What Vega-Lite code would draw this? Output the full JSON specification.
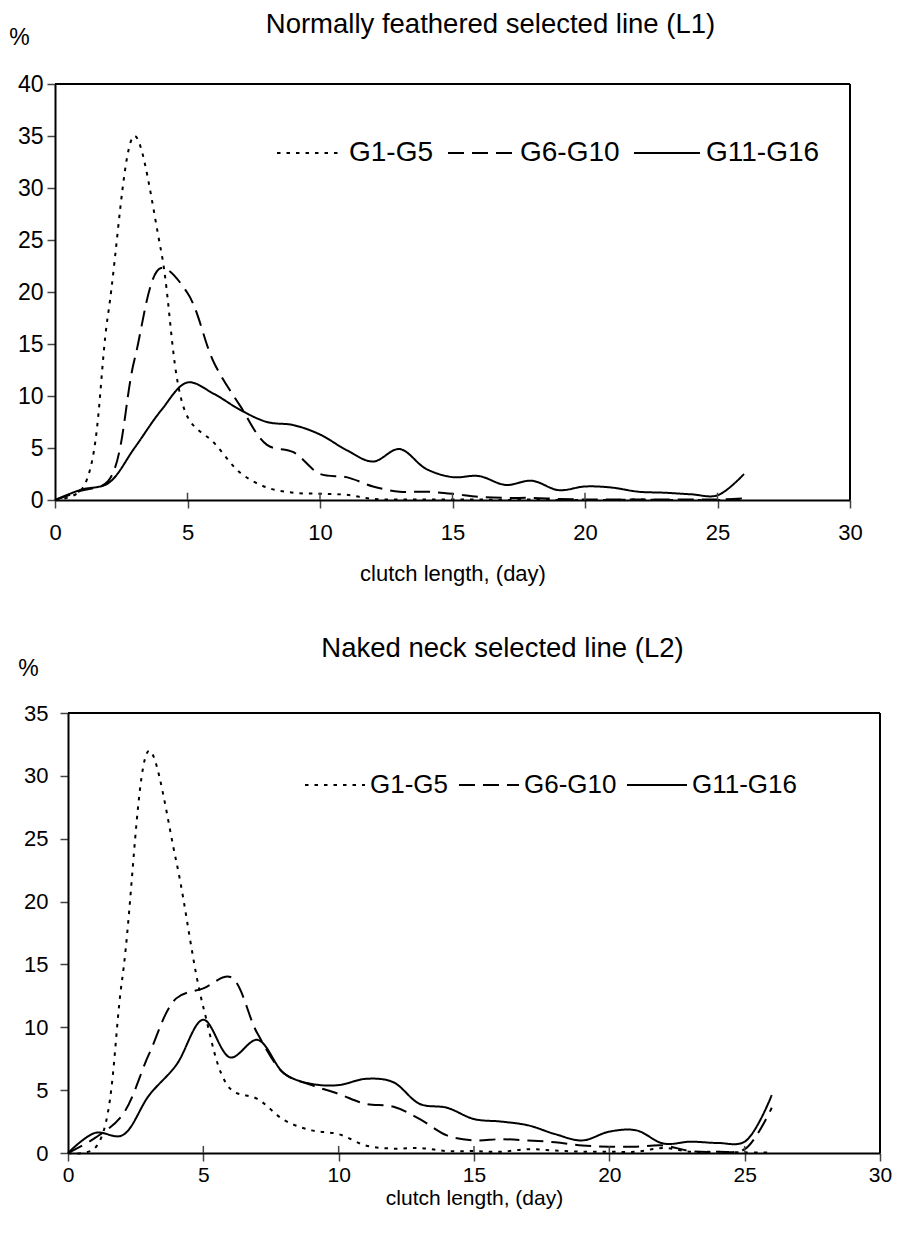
{
  "$schema": "https://vega.github.io/schema/vega-lite/v6.json",
  "padding": {"left": 8, "top": 10, "right": 5, "bottom": 5},
  "background": "white",
  "spacing": 50,
  "config": {"font": "Liberation Sans", "view": {"stroke": null}},
  "datasets": {
    "top": [
      {"day":0,"pct":0,"series":"G1-G5"},{"day":1,"pct":1.0,"series":"G1-G5"},{"day":2,"pct":17.8,"series":"G1-G5"},{"day":3,"pct":35,"series":"G1-G5"},{"day":4,"pct":24,"series":"G1-G5"},{"day":5,"pct":8,"series":"G1-G5"},{"day":6,"pct":5.5,"series":"G1-G5"},{"day":7,"pct":2.6,"series":"G1-G5"},{"day":8,"pct":1.2,"series":"G1-G5"},{"day":9,"pct":0.7,"series":"G1-G5"},{"day":10,"pct":0.6,"series":"G1-G5"},{"day":11,"pct":0.5,"series":"G1-G5"},{"day":12,"pct":0.1,"series":"G1-G5"},{"day":13,"pct":0.05,"series":"G1-G5"},{"day":14,"pct":0.05,"series":"G1-G5"},{"day":15,"pct":0.05,"series":"G1-G5"},{"day":16,"pct":0.05,"series":"G1-G5"},{"day":17,"pct":0,"series":"G1-G5"},{"day":18,"pct":0.05,"series":"G1-G5"},{"day":19,"pct":0,"series":"G1-G5"},{"day":20,"pct":0,"series":"G1-G5"},{"day":21,"pct":0,"series":"G1-G5"},{"day":22,"pct":0.05,"series":"G1-G5"},{"day":23,"pct":0,"series":"G1-G5"},{"day":24,"pct":0,"series":"G1-G5"},{"day":25,"pct":0,"series":"G1-G5"},{"day":26,"pct":0.05,"series":"G1-G5"},
      {"day":0,"pct":0,"series":"G6-G10"},{"day":1,"pct":0.9,"series":"G6-G10"},{"day":2,"pct":1.8,"series":"G6-G10"},{"day":3,"pct":13.5,"series":"G6-G10"},{"day":4,"pct":22.3,"series":"G6-G10"},{"day":5,"pct":19.9,"series":"G6-G10"},{"day":6,"pct":13.2,"series":"G6-G10"},{"day":7,"pct":9.0,"series":"G6-G10"},{"day":8,"pct":5.3,"series":"G6-G10"},{"day":9,"pct":4.6,"series":"G6-G10"},{"day":10,"pct":2.5,"series":"G6-G10"},{"day":11,"pct":2.2,"series":"G6-G10"},{"day":12,"pct":1.3,"series":"G6-G10"},{"day":13,"pct":0.8,"series":"G6-G10"},{"day":14,"pct":0.8,"series":"G6-G10"},{"day":15,"pct":0.6,"series":"G6-G10"},{"day":16,"pct":0.3,"series":"G6-G10"},{"day":17,"pct":0.2,"series":"G6-G10"},{"day":18,"pct":0.2,"series":"G6-G10"},{"day":19,"pct":0.1,"series":"G6-G10"},{"day":20,"pct":0.05,"series":"G6-G10"},{"day":21,"pct":0.05,"series":"G6-G10"},{"day":22,"pct":0.05,"series":"G6-G10"},{"day":23,"pct":0.05,"series":"G6-G10"},{"day":24,"pct":0.05,"series":"G6-G10"},{"day":25,"pct":0.05,"series":"G6-G10"},{"day":26,"pct":0.15,"series":"G6-G10"},
      {"day":0,"pct":0,"series":"G11-G16"},{"day":1,"pct":1.0,"series":"G11-G16"},{"day":2,"pct":1.6,"series":"G11-G16"},{"day":3,"pct":5.0,"series":"G11-G16"},{"day":4,"pct":8.6,"series":"G11-G16"},{"day":5,"pct":11.3,"series":"G11-G16"},{"day":6,"pct":10.2,"series":"G11-G16"},{"day":7,"pct":8.65,"series":"G11-G16"},{"day":8,"pct":7.5,"series":"G11-G16"},{"day":9,"pct":7.2,"series":"G11-G16"},{"day":10,"pct":6.3,"series":"G11-G16"},{"day":11,"pct":4.8,"series":"G11-G16"},{"day":12,"pct":3.7,"series":"G11-G16"},{"day":13,"pct":4.9,"series":"G11-G16"},{"day":14,"pct":3.0,"series":"G11-G16"},{"day":15,"pct":2.2,"series":"G11-G16"},{"day":16,"pct":2.3,"series":"G11-G16"},{"day":17,"pct":1.45,"series":"G11-G16"},{"day":18,"pct":1.85,"series":"G11-G16"},{"day":19,"pct":0.95,"series":"G11-G16"},{"day":20,"pct":1.3,"series":"G11-G16"},{"day":21,"pct":1.2,"series":"G11-G16"},{"day":22,"pct":0.8,"series":"G11-G16"},{"day":23,"pct":0.7,"series":"G11-G16"},{"day":24,"pct":0.55,"series":"G11-G16"},{"day":25,"pct":0.45,"series":"G11-G16"},{"day":26,"pct":2.5,"series":"G11-G16"}
    ],
    "bottom": [
      {"day":0,"pct":0,"series":"G1-G5"},{"day":1,"pct":0.4,"series":"G1-G5"},{"day":2,"pct":13.8,"series":"G1-G5"},{"day":3,"pct":32,"series":"G1-G5"},{"day":4,"pct":23.2,"series":"G1-G5"},{"day":5,"pct":11.6,"series":"G1-G5"},{"day":6,"pct":5.1,"series":"G1-G5"},{"day":7,"pct":4.3,"series":"G1-G5"},{"day":8,"pct":2.6,"series":"G1-G5"},{"day":9,"pct":1.8,"series":"G1-G5"},{"day":10,"pct":1.5,"series":"G1-G5"},{"day":11,"pct":0.6,"series":"G1-G5"},{"day":12,"pct":0.35,"series":"G1-G5"},{"day":13,"pct":0.4,"series":"G1-G5"},{"day":14,"pct":0.15,"series":"G1-G5"},{"day":15,"pct":0.15,"series":"G1-G5"},{"day":16,"pct":0.1,"series":"G1-G5"},{"day":17,"pct":0.3,"series":"G1-G5"},{"day":18,"pct":0.2,"series":"G1-G5"},{"day":19,"pct":0.1,"series":"G1-G5"},{"day":20,"pct":0.1,"series":"G1-G5"},{"day":21,"pct":0.1,"series":"G1-G5"},{"day":22,"pct":0.4,"series":"G1-G5"},{"day":23,"pct":0.1,"series":"G1-G5"},{"day":24,"pct":0.1,"series":"G1-G5"},{"day":25,"pct":0.05,"series":"G1-G5"},{"day":26,"pct":0.05,"series":"G1-G5"},
      {"day":0,"pct":0,"series":"G6-G10"},{"day":1,"pct":1.2,"series":"G6-G10"},{"day":2,"pct":3.0,"series":"G6-G10"},{"day":3,"pct":7.9,"series":"G6-G10"},{"day":4,"pct":12.3,"series":"G6-G10"},{"day":5,"pct":13.1,"series":"G6-G10"},{"day":6,"pct":14.0,"series":"G6-G10"},{"day":7,"pct":9.5,"series":"G6-G10"},{"day":8,"pct":6.3,"series":"G6-G10"},{"day":9,"pct":5.4,"series":"G6-G10"},{"day":10,"pct":4.7,"series":"G6-G10"},{"day":11,"pct":3.9,"series":"G6-G10"},{"day":12,"pct":3.7,"series":"G6-G10"},{"day":13,"pct":2.7,"series":"G6-G10"},{"day":14,"pct":1.4,"series":"G6-G10"},{"day":15,"pct":1.0,"series":"G6-G10"},{"day":16,"pct":1.1,"series":"G6-G10"},{"day":17,"pct":1.0,"series":"G6-G10"},{"day":18,"pct":0.85,"series":"G6-G10"},{"day":19,"pct":0.6,"series":"G6-G10"},{"day":20,"pct":0.5,"series":"G6-G10"},{"day":21,"pct":0.5,"series":"G6-G10"},{"day":22,"pct":0.6,"series":"G6-G10"},{"day":23,"pct":0.15,"series":"G6-G10"},{"day":24,"pct":0.1,"series":"G6-G10"},{"day":25,"pct":0.3,"series":"G6-G10"},{"day":26,"pct":3.6,"series":"G6-G10"},
      {"day":0,"pct":0,"series":"G11-G16"},{"day":1,"pct":1.6,"series":"G11-G16"},{"day":2,"pct":1.4,"series":"G11-G16"},{"day":3,"pct":4.6,"series":"G11-G16"},{"day":4,"pct":7.0,"series":"G11-G16"},{"day":5,"pct":10.6,"series":"G11-G16"},{"day":6,"pct":7.6,"series":"G11-G16"},{"day":7,"pct":9.0,"series":"G11-G16"},{"day":8,"pct":6.3,"series":"G11-G16"},{"day":9,"pct":5.5,"series":"G11-G16"},{"day":10,"pct":5.4,"series":"G11-G16"},{"day":11,"pct":5.9,"series":"G11-G16"},{"day":12,"pct":5.65,"series":"G11-G16"},{"day":13,"pct":3.9,"series":"G11-G16"},{"day":14,"pct":3.6,"series":"G11-G16"},{"day":15,"pct":2.7,"series":"G11-G16"},{"day":16,"pct":2.5,"series":"G11-G16"},{"day":17,"pct":2.2,"series":"G11-G16"},{"day":18,"pct":1.5,"series":"G11-G16"},{"day":19,"pct":1.0,"series":"G11-G16"},{"day":20,"pct":1.7,"series":"G11-G16"},{"day":21,"pct":1.8,"series":"G11-G16"},{"day":22,"pct":0.75,"series":"G11-G16"},{"day":23,"pct":0.9,"series":"G11-G16"},{"day":24,"pct":0.8,"series":"G11-G16"},{"day":25,"pct":0.9,"series":"G11-G16"},{"day":26,"pct":4.6,"series":"G11-G16"}
    ],
    "ticks": [{"t":5},{"t":10},{"t":15},{"t":20},{"t":25}],
    "frame": [{"edge":"box"}]
  },
  "vconcat": [
    {
      "width": 795,
      "height": 416,
      "title": {"text": "Normally feathered selected line (L1)", "fontSize": 27.5, "fontWeight": "normal", "color": "black", "anchor": "middle", "frame": "group", "dx": 38, "offset": -12},
      "layer": [
        {
          "data": {"name": "top"},
          "mark": {"type": "line", "interpolate": "catmull-rom", "strokeWidth": 2, "color": "black"},
          "encoding": {
            "x": {"field": "day", "type": "quantitative", "scale": {"domain": [0, 30], "nice": false},
              "axis": {"values": [0,5,10,15,20,25,30], "grid": false, "tickSize": 8, "tickWidth": 1.5, "tickColor": "#444", "domainColor": "black", "domainWidth": 2, "labelFontSize": 22, "labelColor": "black", "labelPadding": 14, "labelFlush": false, "title": "clutch length, (day)", "titleFontSize": 22, "titleFontWeight": "normal", "titleColor": "black", "titlePadding": 20}},
            "y": {"field": "pct", "type": "quantitative", "scale": {"domain": [0, 40], "nice": false},
              "axis": {"values": [0,5,10,15,20,25,30,35,40], "grid": false, "tickSize": 8, "tickWidth": 1.5, "tickColor": "#444", "domainColor": "black", "domainWidth": 2, "labelFontSize": 23, "labelColor": "black", "labelPadding": 4, "title": "%", "titleAngle": 0, "titleX": -36, "titleY": -47, "titleAlign": "center", "titleBaseline": "middle", "titleFontSize": 23, "titleFontWeight": "normal", "titleColor": "black"}},
            "strokeDash": {"field": "series", "type": "nominal",
              "scale": {"domain": ["G1-G5", "G6-G10", "G11-G16"], "range": [[3.5, 6], [16, 8], [1, 0]]},
              "legend": {"orient": "none", "legendX": 221, "legendY": 35, "direction": "horizontal", "title": null, "symbolType": "stroke", "symbolSize": 4356, "symbolStrokeWidth": 2, "symbolStrokeColor": "black", "labelFontSize": 28, "labelColor": "black", "labelOffset": 5, "columnPadding": 10, "padding": 0}}
          }
        },
        {
          "data": {"name": "ticks"},
          "mark": {"type": "rule", "color": "#444", "strokeWidth": 1.5},
          "encoding": {"x": {"field": "t", "type": "quantitative"}, "y": {"datum": 0}, "y2": {"datum": 0.7}}
        },
        {
          "data": {"name": "frame"},
          "mark": {"type": "rule", "color": "black", "strokeWidth": 2},
          "encoding": {"x": {"datum": 0}, "x2": {"datum": 30}, "y": {"datum": 40}}
        },
        {
          "data": {"name": "frame"},
          "mark": {"type": "rule", "color": "black", "strokeWidth": 2},
          "encoding": {"x": {"datum": 30}, "y": {"datum": 0}, "y2": {"datum": 40}}
        }
      ]
    },
    {
      "width": 825,
      "height": 440,
      "title": {"text": "Naked neck selected line (L2)", "fontSize": 27.5, "fontWeight": "normal", "color": "black", "anchor": "middle", "frame": "group", "dx": 35, "offset": -5},
      "layer": [
        {
          "data": {"name": "bottom"},
          "mark": {"type": "line", "interpolate": "catmull-rom", "strokeWidth": 2, "color": "black"},
          "encoding": {
            "x": {"field": "day", "type": "quantitative", "scale": {"domain": [0, 30], "nice": false, "range": [13, 825]},
              "axis": {"values": [0,5,10,15,20,25,30], "grid": false, "tickSize": 8, "tickWidth": 1.5, "tickColor": "#444", "domainColor": "black", "domainWidth": 2, "labelFontSize": 21, "labelColor": "black", "labelPadding": 3, "labelFlush": false, "title": "clutch length, (day)", "titleFontSize": 21, "titleFontWeight": "normal", "titleColor": "black", "titlePadding": 2}},
            "y": {"field": "pct", "type": "quantitative", "scale": {"domain": [0, 35], "nice": false},
              "axis": {"values": [0,5,10,15,20,25,30,35], "offset": -13, "grid": false, "tickSize": 8, "tickWidth": 1.5, "tickColor": "#444", "domainColor": "black", "domainWidth": 2, "labelFontSize": 22, "labelColor": "black", "labelPadding": 12, "title": "%", "titleAngle": 0, "titleX": -40, "titleY": -45, "titleAlign": "center", "titleBaseline": "middle", "titleFontSize": 23, "titleFontWeight": "normal", "titleColor": "black"}},
            "strokeDash": {"field": "series", "type": "nominal",
              "scale": {"domain": ["G1-G5", "G6-G10", "G11-G16"], "range": [[3.5, 6], [16, 8], [1, 0]]},
              "legend": {"orient": "none", "legendX": 249, "legendY": 41, "direction": "horizontal", "title": null, "symbolType": "stroke", "symbolSize": 3600, "symbolStrokeWidth": 2, "symbolStrokeColor": "black", "labelFontSize": 26, "labelColor": "black", "labelOffset": 4, "columnPadding": 6, "padding": 0}}
          }
        },
        {
          "data": {"name": "ticks"},
          "mark": {"type": "rule", "color": "#444", "strokeWidth": 1.5},
          "encoding": {"x": {"field": "t", "type": "quantitative"}, "y": {"datum": 0}, "y2": {"datum": 0.56}}
        },
        {
          "data": {"name": "frame"},
          "mark": {"type": "rule", "color": "black", "strokeWidth": 2},
          "encoding": {"x": {"datum": 0}, "x2": {"datum": 30}, "y": {"datum": 35}}
        },
        {
          "data": {"name": "frame"},
          "mark": {"type": "rule", "color": "black", "strokeWidth": 2},
          "encoding": {"x": {"datum": 30}, "y": {"datum": 0}, "y2": {"datum": 35}}
        }
      ],
      "resolve": {"legend": {"strokeDash": "independent"}}
    }
  ],
  "resolve": {"legend": {"strokeDash": "independent"}, "scale": {"strokeDash": "independent", "x": "independent", "y": "independent"}}
}
